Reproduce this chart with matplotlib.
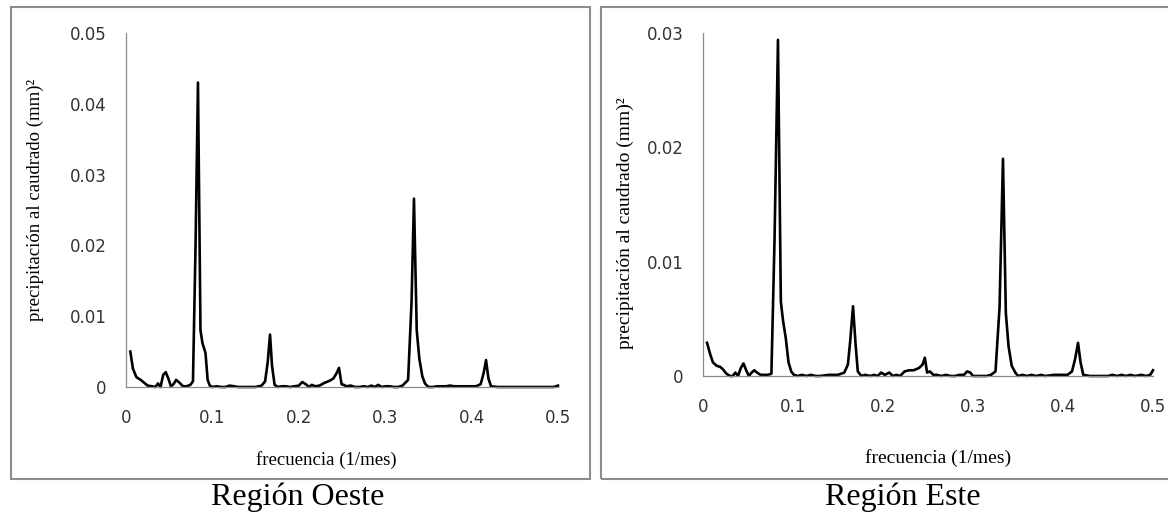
import matplotlib.pyplot as plt
from matplotlib.patches import Rectangle

#----------------------------------------------------------------------------------------------------
#  data
#----------------------------------------------------------------------------------------------------
# Region Oeste
freq_oeste = [0.005, 0.008, 0.012, 0.017, 0.021, 0.025, 0.030, 0.034, 0.037, 0.040,
              0.043, 0.046, 0.049, 0.052, 0.055, 0.058, 0.062, 0.066, 0.070, 0.0745,
              0.0775, 0.0805, 0.0833, 0.0862, 0.0885, 0.092, 0.0945, 0.097, 0.100, 0.105,
              0.110, 0.115, 0.120, 0.125, 0.130, 0.140, 0.150, 0.157, 0.161, 0.164,
              0.1667, 0.169, 0.172, 0.176, 0.180, 0.185, 0.190, 0.195, 0.200, 0.204,
              0.208, 0.212, 0.215, 0.219, 0.224, 0.230, 0.236, 0.240, 0.2435, 0.2465,
              0.2495, 0.252, 0.255, 0.260, 0.265, 0.270, 0.275, 0.280, 0.284, 0.288,
              0.292, 0.296, 0.300, 0.305, 0.310, 0.315, 0.320, 0.3265, 0.3305, 0.3333,
              0.3365, 0.3395, 0.343, 0.346, 0.350, 0.355, 0.360, 0.370, 0.375, 0.380,
              0.390, 0.400, 0.405, 0.4105, 0.414, 0.4167, 0.4195, 0.4225, 0.430, 0.440,
              0.450, 0.460, 0.470, 0.480, 0.490, 0.495, 0.500]
pot_oeste = [0.0050, 0.0026, 0.0014, 0.0010, 0.0006, 0.0002, 0.0001, 0.0000, 0.0005, 0.0000,
             0.0017, 0.0021, 0.0012, 0.0001, 0.0004, 0.0010, 0.0006, 0.0001, 0.0001, 0.0003,
             0.0008, 0.0200, 0.0430, 0.0080, 0.0062, 0.0048, 0.0010, 0.0002, 0.0000, 0.0001,
             0.0000, 0.0000, 0.0002, 0.0001, 0.0000, 0.0000, 0.0000, 0.0002, 0.0008, 0.0035,
             0.0074, 0.0030, 0.0003, 0.0000, 0.0001, 0.0001, 0.0000, 0.0001, 0.0002, 0.0007,
             0.0004, 0.0000, 0.0003, 0.0001, 0.0002, 0.0006, 0.0009, 0.0012, 0.0019, 0.0027,
             0.0004, 0.0003, 0.0001, 0.0002, 0.0000, 0.0000, 0.0001, 0.0000, 0.0002, 0.0000,
             0.0003, 0.0000, 0.0001, 0.0001, 0.0000, 0.0000, 0.0002, 0.0010, 0.0120, 0.0266,
             0.0080, 0.0040, 0.0015, 0.0005, 0.0000, 0.0000, 0.0001, 0.0001, 0.0002, 0.0001,
             0.0001, 0.0001, 0.0001, 0.0004, 0.0020, 0.0038, 0.0012, 0.0001, 0.0000, 0.0000,
             0.0000, 0.0000, 0.0000, 0.0000, 0.0000, 0.0000, 0.0002]

# Region Este
freq_este = [0.0045, 0.008, 0.011, 0.015, 0.019, 0.022, 0.026, 0.030, 0.033, 0.036,
             0.039, 0.042, 0.045, 0.048, 0.051, 0.054, 0.057, 0.060, 0.064, 0.068,
             0.072, 0.076, 0.0795, 0.0833, 0.0865, 0.089, 0.092, 0.095, 0.098, 0.101,
             0.105, 0.110, 0.115, 0.120, 0.125, 0.130, 0.140, 0.150, 0.157, 0.161,
             0.1635, 0.1667, 0.1695, 0.172, 0.176, 0.180, 0.186, 0.190, 0.194, 0.198,
             0.202, 0.207, 0.211, 0.215, 0.219, 0.224, 0.229, 0.234, 0.240, 0.244,
             0.2465, 0.249, 0.252, 0.256, 0.260, 0.265, 0.270, 0.275, 0.280, 0.285,
             0.290, 0.2935, 0.297, 0.300, 0.305, 0.310, 0.315, 0.320, 0.325, 0.3295,
             0.3333, 0.3365, 0.3395, 0.343, 0.347, 0.350, 0.355, 0.360, 0.365, 0.370,
             0.376, 0.380, 0.390, 0.400, 0.405, 0.410, 0.4135, 0.4167, 0.4195, 0.4225,
             0.430, 0.440, 0.450, 0.455, 0.460, 0.465, 0.470, 0.475, 0.480, 0.487,
             0.492, 0.497, 0.500]
pot_este = [0.0029, 0.0019, 0.0012, 0.0009, 0.0008, 0.0006, 0.0002, 0.0000, 0.0000, 0.0003,
            0.0000, 0.0007, 0.0011, 0.0005, 0.0000, 0.0003, 0.0005, 0.0003, 0.0001, 0.0001,
            0.0001, 0.0002, 0.0120, 0.0294, 0.0065, 0.0048, 0.0033, 0.0012, 0.0004, 0.0001,
            0.0000, 0.0001, 0.0000, 0.0001, 0.0000, 0.0000, 0.0001, 0.0001, 0.0003, 0.0010,
            0.0030, 0.0061, 0.0028, 0.0004, 0.0000, 0.0001, 0.0000, 0.0001, 0.0000, 0.0003,
            0.0001, 0.0003, 0.0000, 0.0001, 0.0000, 0.0004, 0.0005, 0.0005, 0.0007, 0.0010,
            0.0016, 0.0003, 0.0004, 0.0001, 0.0001, 0.0000, 0.0001, 0.0000, 0.0000, 0.0001,
            0.0001, 0.0004, 0.0003, 0.0000, 0.0000, 0.0000, 0.0000, 0.0001, 0.0004, 0.0060,
            0.0190, 0.0055, 0.0026, 0.0009, 0.0003, 0.0000, 0.0001, 0.0000, 0.0001, 0.0000,
            0.0001, 0.0000, 0.0001, 0.0001, 0.0001, 0.0004, 0.0015, 0.0029, 0.0012, 0.0001,
            0.0000, 0.0000, 0.0000, 0.0001, 0.0000, 0.0001, 0.0000, 0.0001, 0.0000, 0.0001,
            0.0000, 0.0001, 0.0005]

xticks = [0, 0.1, 0.2, 0.3, 0.4, 0.5]
yticks_oeste = [0, 0.01, 0.02, 0.03, 0.04, 0.05]
yticks_este = [0, 0.01, 0.02, 0.03]

ylabel = 'precipitación al caudrado (mm)²'
xlabel = 'frecuencia (1/mes)'

#----------------------------------------------------------------------------------------------------
#  figure
#----------------------------------------------------------------------------------------------------
W, H = 1168, 517
fig = plt.figure(figsize=(W / 100, H / 100), dpi=100)
serif = 'Liberation Serif'
gray = '#8c8c8c'

# outer boxes of both charts (pixel coords -> figure coords)
for x0, x1 in [(11, 590), (601, 1172)]:
    fig.patches.append(Rectangle((x0 / W, 1 - 479 / H), (x1 - x0) / W, 472 / H,
                                 transform=fig.transFigure, fill=False,
                                 edgecolor=gray, linewidth=1.5))


def panel(rect, f, p, yticks, ylab_xy, xlab_xy, title_xy, title, ylab_size, xlab_size):
    ax = fig.add_axes([rect[0] / W, 1 - rect[3] / H, (rect[1] - rect[0]) / W,
                       (rect[3] - rect[2]) / H])
    ax.plot(f, p, color='black', linewidth=1.9, solid_joinstyle='round', clip_on=False)
    ax.set_xlim(0, 0.5)
    ax.set_ylim(0, yticks[-1])
    ax.set_xticks(xticks)
    ax.set_xticklabels(['0', '0.1', '0.2', '0.3', '0.4', '0.5'])
    ax.set_yticks(yticks)
    ax.set_yticklabels(['0'] + [f'{v:.2f}' for v in yticks[1:]])
    ax.tick_params(length=0, labelsize=12, labelcolor='#333333')
    ax.tick_params(axis='y', pad=14)
    ax.tick_params(axis='x', pad=16)
    for s in ['top', 'right']:
        ax.spines[s].set_visible(False)
    for s in ['left', 'bottom']:
        ax.spines[s].set_color(gray)
        ax.spines[s].set_linewidth(0.9)
    ax.patch.set_alpha(0)
    fig.text(ylab_xy[0] / W, 1 - ylab_xy[1] / H, ylabel, rotation=90, family=serif,
             fontsize=ylab_size, ha='center', va='center')
    fig.text(xlab_xy[0] / W, 1 - xlab_xy[1] / H, xlabel, family=serif,
             fontsize=xlab_size, ha='center', va='center')
    fig.text(title_xy[0] / W, 1 - title_xy[1] / H, title, family=serif,
             fontsize=23, ha='center', va='center')
    return ax


# rect = (x_left, x_right, y_top, y_bottom) in pixels
panel((126, 558, 33, 387), freq_oeste, pot_oeste, yticks_oeste,
      (35, 200), (326, 460), (298, 497), 'Región Oeste', 13.5, 13.5)
panel((703, 1153, 33, 376), freq_este, pot_este, yticks_este,
      (625, 223), (938, 458), (903, 497), 'Región Este', 14, 14)

plt.savefig('out.png', dpi=100)
